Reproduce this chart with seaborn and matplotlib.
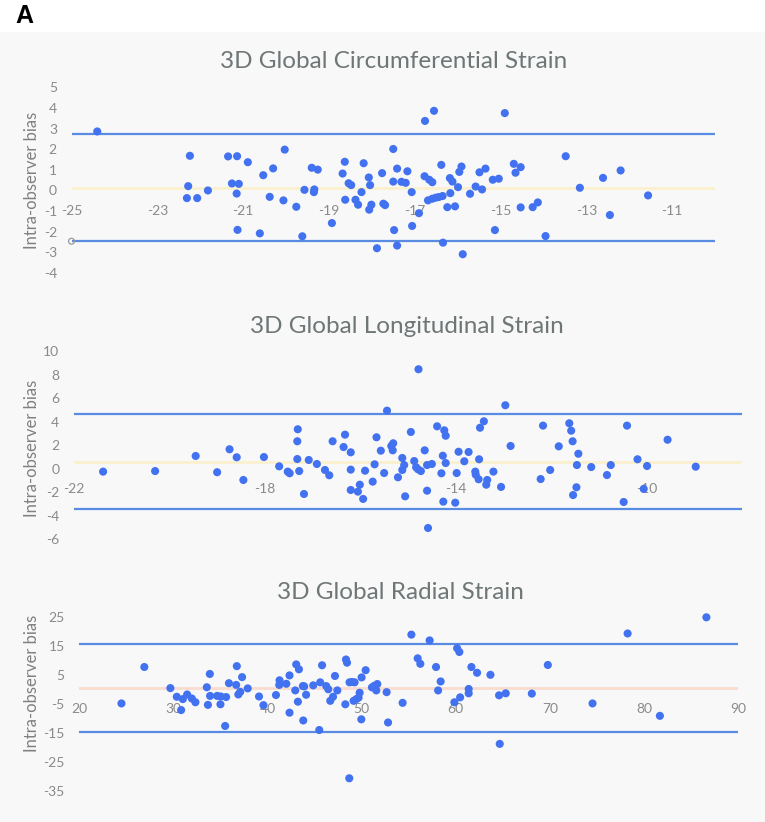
import numpy as np
import pandas as pd
import seaborn as sns
import matplotlib.pyplot as plt
from matplotlib.patches import Rectangle

# ---------------- data ----------------
# 3D Global Circumferential Strain: mean of two readings vs intra-observer bias
gcs_mean = [-24.40, -22.24, -22.28, -22.31, -22.07, -21.82, -21.35, -21.14, -20.89, -21.26,
            -21.10, -21.15, -21.13, -20.61, -20.53, -20.30, -20.38,
            -20.06, -20.03, -19.76, -19.62, -19.57, -19.40, -19.26, -19.34, -19.35, -18.93,
            -18.63, -18.68, -18.54, -18.48, -18.62, -18.38, -18.32, -18.24, -18.19, -18.07,
            -18.04, -18.06, -18.01, -17.88, -17.76, -17.73, -17.69, -17.50, -17.50, -17.48,
            -17.41, -17.41, -17.31, -17.21, -17.17, -17.07, -17.06, -16.90, -16.76, -16.55,
            -16.77, -16.66, -16.59, -16.69, -16.59, -16.51, -16.44, -16.35, -16.38, -16.34,
            -16.24, -16.06, -16.17, -16.18, -16.12, -15.99, -15.96, -15.91, -15.88, -15.71,
            -15.58, -15.43, -15.49, -15.35, -15.18, -15.04, -15.13, -14.90, -14.69, -14.53,
            -14.65, -14.53,
            -14.25, -14.13, -13.95, -13.48, -13.15, -12.61, -12.20, -12.45, -11.56]
gcs_bias = [2.86, 1.68, 0.21, -0.37, -0.37, 0.00, 1.65, 1.66, 1.37, 0.34,
            0.32, -0.15, -1.91, -2.08, 0.74, 1.07, -0.31,
            -0.48, 1.98, -0.79, -2.22, 0.03, 1.10, 1.01, 0.05, -0.08, -1.58,
            1.39, 0.82, 0.35, 0.26, -0.45, -0.45, -0.69, -0.08, 1.32, 0.63,
            0.26, -0.93, -0.69, -2.80, 0.84, -0.64, -0.71, 2.01, 0.43, -1.92,
            1.06, -2.67, 0.42, 0.37, 0.93, -0.08, -1.72, -1.10, 3.37, 3.86,
            0.69, 0.52, 0.40, -0.48, -0.40, -0.35, -0.32, -0.27, 1.24, -2.53,
            -0.81, -0.77, -0.13, 0.60, 0.43, 0.16, 0.90, 1.16, -3.09, -0.16,
            0.19, 0.05, 0.88, 1.06, 0.52, 0.57, -1.92, 3.75, 1.29, 1.13,
            0.86, -0.82,
            -0.81, -0.58, -2.21, 1.66, 0.13, 0.61, 0.97, -1.19, -0.24]
gcs_upper, gcs_mean_bias, gcs_lower = 2.72, 0.13, -2.46

# 3D Global Longitudinal Strain
gls_mean = [-21.39, -20.30, -19.45, -19.00, -18.74, -18.59, -18.45, -18.02, -17.70, -17.52,
            -17.48, -17.31, -17.32, -17.32, -17.28, -17.18, -17.08, -16.91, -16.74, -16.65,
            -16.58, -16.35, -16.32, -16.20, -16.20, -16.20, -16.05, -16.01, -15.94, -15.90,
            -15.74, -15.70, -15.66, -15.57, -15.50, -15.44, -15.35, -15.31, -15.32, -15.21,
            -15.12, -15.08, -15.12, -15.06, -14.94, -14.87, -14.83, -14.79, -14.73, -14.65,
            -14.60, -14.50, -14.60, -14.58, -14.39, -14.24, -14.21, -14.27, -14.21, -14.30,
            -14.26, -14.01, -13.98, -13.94, -13.82, -13.73, -13.51, -13.49, -13.41, -13.59,
            -13.58, -13.52, -13.34, -13.36, -13.21, -13.05, -12.96, -12.85, -12.22, -12.17,
            -12.02, -11.84, -11.62, -11.58, -11.55, -11.43, -11.46, -11.47, -11.54, -11.16,
            -10.83, -10.75, -10.48, -10.41, -10.19, -10.06, -9.99, -9.56, -8.97, -14.78]
gls_bias = [-0.25, -0.20, 1.08, -0.30, 1.65, 0.97, -0.96, 0.99, 0.20, -0.25,
            -0.39, 3.35, 2.33, 0.82, -0.20, -2.15, 0.74, 0.40, -0.11, -0.56,
            2.33, 1.84, 2.89, 1.39, -0.08, -1.81, -1.95, -1.36, -2.57, -0.17,
            -1.10, 0.37, 2.67, 1.53, -0.37, 4.93, 1.93, 2.16, 1.56, -0.73,
            0.91, 0.31, -0.11, -2.35, 3.12, 0.65, 0.12, -0.05, -0.20, 1.56,
            0.31, 0.40, -1.87, -5.04, 3.60, 3.26, 2.80, 1.10, 0.48, -0.39,
            -2.80, -2.89, -0.37, 1.44, 0.63, 1.42, 0.80, 3.48, 4.03, -0.25,
            -0.51, -0.90, -0.96, -1.36, -0.25, -1.55, 5.39, 1.93, -0.88, 3.66,
            -0.11, 1.90, 3.86, 3.23, 2.33, 1.27, 0.31, -1.58, -2.24, 0.14,
            -0.54, 0.31, -2.83, 3.66, 0.80, -1.72, 0.23, 2.46, 0.17, 8.45]
gls_upper, gls_mean_bias, gls_lower = 4.65, 0.60, -3.45

# 3D Global Radial Strain
grs_mean = [24.48, 26.91, 29.68, 30.36, 30.82, 31.00, 31.46, 31.96, 32.34, 33.55,
            33.87, 33.90, 33.67, 34.65, 35.04, 35.00, 35.60, 35.50, 35.90, 36.74,
            36.67, 36.90, 37.10, 37.30, 37.90, 39.10,
            39.57, 40.90, 41.28, 41.25, 42.00, 42.34, 42.34, 43.05, 43.34, 42.95,
            43.23, 43.76, 43.90, 44.10, 43.80, 44.86, 45.60, 45.80, 45.50, 46.24,
            46.46, 46.67, 46.96, 47.17, 47.42, 48.34, 48.45, 48.27, 48.69, 48.72,
            48.98, 49.26, 49.15, 49.44, 49.68, 49.79, 50.00, 50.43, 49.97, 51.10,
            51.35, 51.67, 51.56, 52.66, 52.81, 54.36, 55.29, 55.96, 56.24, 57.23,
            57.91, 58.40, 58.13, 59.86, 60.15, 60.39, 60.47, 61.38, 61.38, 61.67,
            62.27, 63.69, 64.61, 64.68,
            65.32, 68.09, 69.79, 74.54, 78.27, 81.70, 86.64]
grs_bias = [-4.8, 7.8, 0.5, -2.5, -7.1, -3.3, -1.7, -3.1, -4.4, 0.8,
            5.4, -2.2, -5.3, -2.2, -2.4, -5.1, -2.6, -12.6, 2.2, 8.1,
            1.6, -1.7, -0.8, 4.3, 0.4, -2.4,
            -5.4, -1.9, 3.2, 1.6, 2.0, 4.9, -8.0, 8.7, 7.0, -0.3,
            -4.2, 1.2, 1.1, -1.8, -10.7, 1.45, 2.5, 8.4, -14.0, 1.2,
            0.1, -3.9, -2.5, 4.7, -0.3, 10.4, 9.3, -5.1, -30.7, 2.5,
            2.6, 2.5, -3.9, -3.3, -2.8, -1.1, 4.2, 6.7, -10.3, 0.76,
            1.3, 1.9, -0.3, -0.9, -11.4, -4.6, 19.0, 10.8, 8.9, 17.0,
            7.8, 2.8, -0.3, -4.4, 14.3, 13.0, -2.7, 0.2, -1.3, 7.8,
            5.8, 5.1, -2.0, -18.8,
            -1.3, -1.4, 8.5, -4.8, 19.4, -9.1, 25.0]
grs_upper, grs_mean_bias, grs_lower = 15.6, 0.4, -14.8

titles = ["3D Global Circumferential Strain",
          "3D Global Longitudinal Strain",
          "3D Global Radial Strain"]
ylabel_text = "Intra-observer bias"
panel_letter = "A"

gcs_xticks = [-25, -23, -21, -19, -17, -15, -13, -11]
gls_xticks = [-22, -18, -14, -10]
grs_xticks = [20, 30, 40, 50, 60, 70, 80, 90]
gcs_yticks = [-4, -3, -2, -1, 0, 1, 2, 3, 4, 5]
gls_yticks = [-6, -4, -2, 0, 2, 4, 6, 8, 10]
grs_yticks = [-35, -25, -15, -5, 5, 15, 25]

# ---------------- style ----------------
sns.set_theme(style="white")
plt.rcParams['font.family'] = ['Lato', 'DejaVu Sans']

W, H = 765, 822
BG = "#F8F8F8"
PT_COLOR = "#4272F0"
LOA_COLOR = "#5A8BE3"
TICK_COLOR = "#8A8A8A"
TITLE_COLOR = "#6E7676"

fig = plt.figure(figsize=(W / 100, H / 100), dpi=100)
fig.patch.set_facecolor("white")
fig.patches.append(Rectangle((0, 0), 1, 1 - 32 / H, transform=fig.transFigure,
                             facecolor=BG, edgecolor="none", zorder=-10))


def axes_px(l, r, t, b):
    return fig.add_axes([l / W, 1 - b / H, (r - l) / W, (b - t) / H])


panels = [
    dict(x=gcs_mean, y=gcs_bias, up=gcs_upper, mid=gcs_mean_bias, lo=gcs_lower,
         box=(71.5, 715, 87.3, 273), xlim=(-25, -10), ylim=(-4, 5),
         xticks=gcs_xticks, yticks=gcs_yticks, xlab_y=-1.0, mid_color="#FBF0CE",
         title_xy=(394, 62), ylab_xy=(32, 180)),
    dict(x=gls_mean, y=gls_bias, up=gls_upper, mid=gls_mean_bias, lo=gls_lower,
         box=(74, 742, 351, 539.3), xlim=(-22, -8), ylim=(-6, 10),
         xticks=gls_xticks, yticks=gls_yticks, xlab_y=-1.75, mid_color="#FBF0CE",
         title_xy=(407, 326), ylab_xy=(32, 448)),
    dict(x=grs_mean, y=grs_bias, up=grs_upper, mid=grs_mean_bias, lo=grs_lower,
         box=(79.3, 738, 617.3, 790.7), xlim=(20, 90), ylim=(-35, 25),
         xticks=grs_xticks, yticks=grs_yticks, xlab_y=-6.85, mid_color="#FADCCF",
         title_xy=(400, 592.7), ylab_xy=(32, 683)),
]

for i, p in enumerate(panels):
    ax = axes_px(*p["box"])
    ax.set_facecolor("none")
    ax.axhline(p["mid"], color=p["mid_color"], lw=2.0, zorder=1)
    ax.axhline(p["up"], color=LOA_COLOR, lw=1.6, zorder=1)
    ax.axhline(p["lo"], color=LOA_COLOR, lw=1.6, zorder=1)
    df = pd.DataFrame({"mean": p["x"], "bias": p["y"]})
    sns.scatterplot(data=df, x="mean", y="bias", ax=ax, s=34, color=PT_COLOR,
                    edgecolor="none", linewidth=0, zorder=3, clip_on=False)
    ax.set_xlim(*p["xlim"])
    ax.set_ylim(*p["ylim"])
    ax.set_yticks(p["yticks"])
    ax.set_yticklabels([str(v) for v in p["yticks"]])
    ax.set_xticks([])
    ax.tick_params(axis="y", length=0, pad=10.5, labelsize=10, labelcolor=TICK_COLOR)
    for t in p["xticks"]:
        ax.text(t, p["xlab_y"], str(t), ha="center", va="center", fontsize=10,
                color=TICK_COLOR, zorder=2)
    for s in ax.spines.values():
        s.set_visible(False)
    ax.set_xlabel("")
    ax.set_ylabel("")
    if i == 0:
        # small hollow marker at the start of the lower limit line
        ax.scatter([p["xlim"][0]], [p["lo"]], s=18, facecolors="none",
                   edgecolors="#9A9A9A", linewidths=0.9, zorder=4, clip_on=False)
    fig.text(p["title_xy"][0] / W, 1 - p["title_xy"][1] / H, titles[i],
             ha="center", va="center", fontsize=17.5, fontweight="normal",
             color=TITLE_COLOR)
    fig.text(p["ylab_xy"][0] / W, 1 - p["ylab_xy"][1] / H, ylabel_text,
             ha="center", va="center", rotation=90, fontsize=12, color="#808080")

fig.text(15 / W, 1 - 16 / H, panel_letter, ha="left", va="center", fontsize=18,
         fontweight="bold", color="black", family=["Liberation Sans", "DejaVu Sans"])

fig.savefig("out.png", dpi=100, facecolor=fig.get_facecolor())
